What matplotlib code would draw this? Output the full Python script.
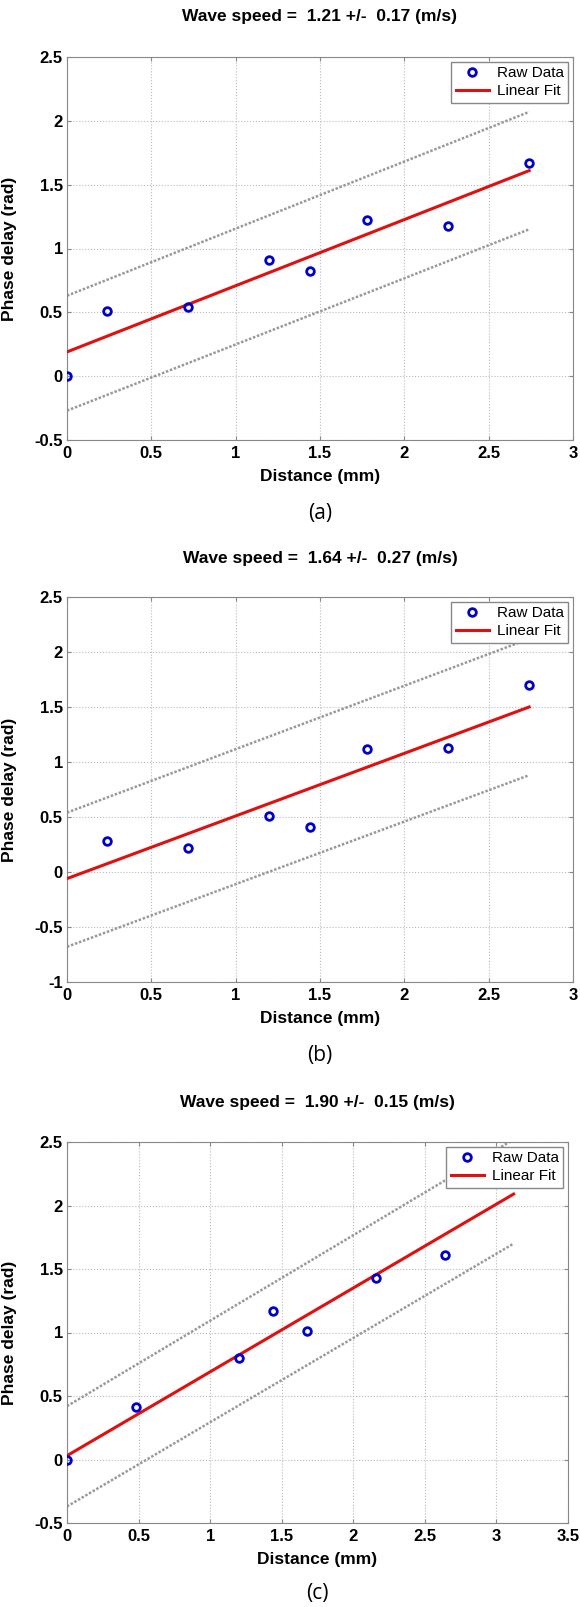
import numpy as np
import matplotlib.pyplot as plt

plt.rcParams['font.family'] = ['Liberation Sans', 'DejaVu Sans']

# panel (a)
a_x = [0.0, 0.24, 0.72, 1.20, 1.44, 1.78, 2.26, 2.74]
a_y = [0.0, 0.51, 0.54, 0.91, 0.82, 1.22, 1.18, 1.67]
a_fit_x = [0.0, 2.74]
a_fit = [0.19, 1.61]
a_upper = [0.63, 2.07]
a_lower = [-0.27, 1.15]

# panel (b)
b_x = [0.24, 0.72, 1.20, 1.44, 1.78, 2.26, 2.74]
b_y = [0.28, 0.22, 0.51, 0.41, 1.12, 1.13, 1.70]
b_fit_x = [0.0, 2.74]
b_fit = [-0.06, 1.50]
b_upper = [0.54, 2.12]
b_lower = [-0.68, 0.88]

# panel (c)
c_x = [0.0, 0.48, 1.20, 1.44, 1.68, 2.16, 2.64]
c_y = [0.0, 0.41, 0.80, 1.17, 1.01, 1.43, 1.61]
c_fit_x = [0.0, 3.12]
c_fit = [0.03, 2.09]
c_upper = [0.42, 2.52]
c_lower = [-0.37, 1.70]

titles = ['Wave speed =  1.21 +/-  0.17 (m/s)',
          'Wave speed =  1.64 +/-  0.27 (m/s)',
          'Wave speed =  1.90 +/-  0.15 (m/s)']
tags = ['(a)', '(b)', '(c)']

panels = [
    (a_x, a_y, a_fit_x, a_fit, a_upper, a_lower, (0, 3), np.arange(0, 3.01, 0.5), (-0.5, 2.5), np.arange(-0.5, 2.51, 0.5)),
    (b_x, b_y, b_fit_x, b_fit, b_upper, b_lower, (0, 3), np.arange(0, 3.01, 0.5), (-1, 2.5), np.arange(-1, 2.51, 0.5)),
    (c_x, c_y, c_fit_x, c_fit, c_upper, c_lower, (0, 3.5), np.arange(0, 3.51, 0.5), (-0.5, 2.5), np.arange(-0.5, 2.51, 0.5)),
]

# axes boxes in pixels on a 580x1607 canvas
W, H = 580, 1607
boxes = [(57, 440), (597, 982), (1142, 1523)]
rights = [573, 573, 568]
title_y = [17, 558, 1103]
tag_y = [513, 1055, 1593]
left = 67

fig = plt.figure(figsize=(W / 100, H / 100), dpi=100)

for i, (x, y, fx, fy, up, lo, xl, xt, yl, yt) in enumerate(panels):
    top, bot = boxes[i]
    right = rights[i]
    ax = fig.add_axes([left / W, 1 - bot / H, (right - left) / W, (bot - top) / H])
    ax.plot(fx, up, linestyle=(0, (1, 0.7)), color='#999999', lw=1.8, zorder=2)
    ax.plot(fx, lo, linestyle=(0, (1, 0.7)), color='#999999', lw=1.8, zorder=2)
    ax.plot(x, y, 'o', mfc='none', mec='#0000cc', mew=2.0, ms=5.5, label='Raw Data', zorder=4)
    ax.plot(fx, fy, '-', color='#e01010', lw=2.2, label='Linear Fit', zorder=3)
    ax.set_xlim(*xl)
    ax.set_ylim(*yl)
    ax.set_xticks(xt)
    ax.set_yticks(yt)
    ax.set_xticklabels(['%g' % v for v in xt], fontweight='bold', fontsize=12)
    ax.set_yticklabels(['%g' % v for v in yt], fontweight='bold', fontsize=12)
    ax.tick_params(direction='in', top=True, right=True, length=3, color='#888888')
    ax.tick_params(axis='x', pad=4)
    ax.tick_params(axis='y', pad=3)
    ax.grid(True, linestyle=':', color='#bbbbbb', lw=0.8)
    for s in ax.spines.values():
        s.set_color('#888888')
    ax.set_xlabel('Distance (mm)', fontweight='bold', fontsize=12.5, labelpad=6)
    ax.set_ylabel('Phase delay (rad)', fontweight='bold', fontsize=12.5)
    ax.yaxis.set_label_coords(-(left - 17.5) / (right - left), 0.5)
    leg = ax.legend(loc='upper right', fontsize=11, frameon=True, fancybox=False,
                    edgecolor='#888888', framealpha=1, borderpad=0.3,
                    handlelength=2.2, handletextpad=0.5, labelspacing=0.25,
                    borderaxespad=0.3)
    leg.set_zorder(10)
    fig.text((left + right) / 2 / W, 1 - title_y[i] / H, titles[i],
             ha='center', va='center', fontweight='bold', fontsize=12.5)
    fig.text((left + right) / 2 / W, 1 - tag_y[i] / H, tags[i],
             ha='center', va='center', fontsize=15, family='Open Sans')

fig.savefig('out.png', dpi=100)
